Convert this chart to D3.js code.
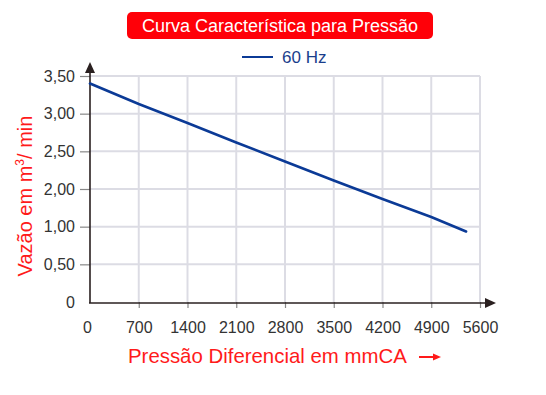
<!DOCTYPE html>
<html><head><meta charset="utf-8">
<script src="https://cdn.jsdelivr.net/npm/d3@7"></script>
<style>body{margin:0;background:#fff}svg{display:block;font-family:Arial,"Liberation Sans",sans-serif}</style>
</head><body>
<script>
const title = "Curva Característica para Pressão";
const seriesName = "60 Hz";
const pressure = [0, 700, 1400, 2100, 2800, 3500, 4200, 4900, 5400];
const flow = [3.40, 3.128, 2.876, 2.617, 2.365, 2.113, 1.734, 1.257, 0.936];
const xTicks = [0, 700, 1400, 2100, 2800, 3500, 4200, 4900, 5600];
const yTicks = [0, 0.5, 1, 2, 2.5, 3, 3.5];
const yTickLabels = ["0", "0,50", "1,00", "2,00", "2,50", "3,00", "3,50"];
const xLabel = "Pressão Diferencial em mmCA";

(function () {
const W = 546, H = 395;
const svg = d3.select("body").append("svg").attr("width", W).attr("height", H);

const mLeft = 90, mRight = 480, mBottom = 302, mTop = 76;
const x = d3.scaleLinear().domain([0, 5600]).range([mLeft, mRight]);
const step = (mBottom - mTop) / (yTicks.length - 1);
const y = d3.scaleLinear().domain(yTicks).range(yTicks.map((d, i) => mBottom - i * step));

const grid = "#dcdce4";
svg.append("g").selectAll("line").data(yTicks.slice(1)).join("line")
  .attr("x1", mLeft).attr("x2", mRight).attr("y1", d => y(d)).attr("y2", d => y(d))
  .attr("stroke", grid).attr("stroke-width", 2);
svg.append("g").selectAll("line").data(xTicks.slice(1)).join("line")
  .attr("x1", d => x(d)).attr("x2", d => x(d)).attr("y1", mTop).attr("y2", mBottom)
  .attr("stroke", grid).attr("stroke-width", 2);

const xAxis = d3.axisBottom(x).tickValues(xTicks).tickFormat(d3.format("d")).tickSize(6).tickPadding(14);
const gx = svg.append("g").attr("transform", `translate(0,${mBottom})`).call(xAxis);
gx.select(".domain").remove();
gx.selectAll(".tick line").attr("stroke", "#888").attr("stroke-width", 1.2);
gx.selectAll(".tick text").attr("fill", "#333").attr("font-size", 16).attr("font-family", "Arial, Liberation Sans");
gx.selectAll(".tick").filter(d => d === 0).select("text").attr("dx", -3);
gx.selectAll(".tick").filter(d => d === 0).select("line").remove();

const yAxis = d3.axisLeft(y).tickValues(yTicks).tickFormat((d, i) => yTickLabels[i]).tickSize(10).tickPadding(5);
const gy = svg.append("g").attr("transform", `translate(${mLeft},0)`).call(yAxis);
gy.select(".domain").remove();
gy.selectAll(".tick line").attr("stroke", "#888").attr("stroke-width", 1.2);
gy.selectAll(".tick text").attr("fill", "#333").attr("font-size", 16).attr("font-family", "Arial, Liberation Sans");
gy.selectAll(".tick").filter(d => d === 0).select("line").remove();

const axc = "#2a2020";
svg.append("line").attr("x1", mLeft).attr("x2", mLeft).attr("y1", mBottom + 1).attr("y2", 70).attr("stroke", axc).attr("stroke-width", 1.6);
svg.append("line").attr("x1", mLeft - 1).attr("x2", 487).attr("y1", mBottom + 1).attr("y2", mBottom + 1).attr("stroke", axc).attr("stroke-width", 1.6);
svg.append("path").attr("d", `M${mLeft},62 L${mLeft - 5},73 L${mLeft + 5},73 Z`).attr("fill", axc);
svg.append("path").attr("d", `M496,${mBottom + 1} L485,${mBottom - 4} L485,${mBottom + 6} Z`).attr("fill", axc);

const line = d3.line().x((d, i) => x(pressure[i])).y(d => y(d));
svg.append("path").datum(flow).attr("d", line).attr("fill", "none")
  .attr("stroke", "#0b3a96").attr("stroke-width", 2.6).attr("stroke-linecap", "round").attr("stroke-linejoin", "round");

svg.append("rect").attr("x", 127).attr("y", 12).attr("width", 306).attr("height", 27).attr("rx", 5)
  .attr("fill", "#ff0008");
svg.append("text").attr("x", 280).attr("y", 32).attr("text-anchor", "middle").attr("fill", "#fff")
  .attr("font-size", 18).text(title);

svg.append("line").attr("x1", 242).attr("x2", 273).attr("y1", 57).attr("y2", 57).attr("stroke", "#0b3a96").attr("stroke-width", 2);
svg.append("text").attr("x", 282).attr("y", 63).attr("fill", "#1a3e8c").attr("font-size", 17).text(seriesName);

svg.append("text").attr("x", 128).attr("y", 363).attr("fill", "#ff1a1a").attr("font-size", 20.4).text(xLabel);
svg.append("line").attr("x1", 419).attr("x2", 434).attr("y1", 357).attr("y2", 357).attr("stroke", "#ff1a1a").attr("stroke-width", 2);
svg.append("path").attr("d", "M441,357 L433,353.5 L433,360.5 Z").attr("fill", "#ff1a1a");

const yl = svg.append("text").attr("transform", "translate(32,196) rotate(-90)").attr("text-anchor", "middle")
  .attr("fill", "#ff1a1a").attr("font-size", 20);
yl.append("tspan").text("Vazão em m");
yl.append("tspan").attr("font-size", 12).attr("dy", -8).text("3");
yl.append("tspan").attr("dy", 8).text("/ min");
})();
</script>
</body></html>
